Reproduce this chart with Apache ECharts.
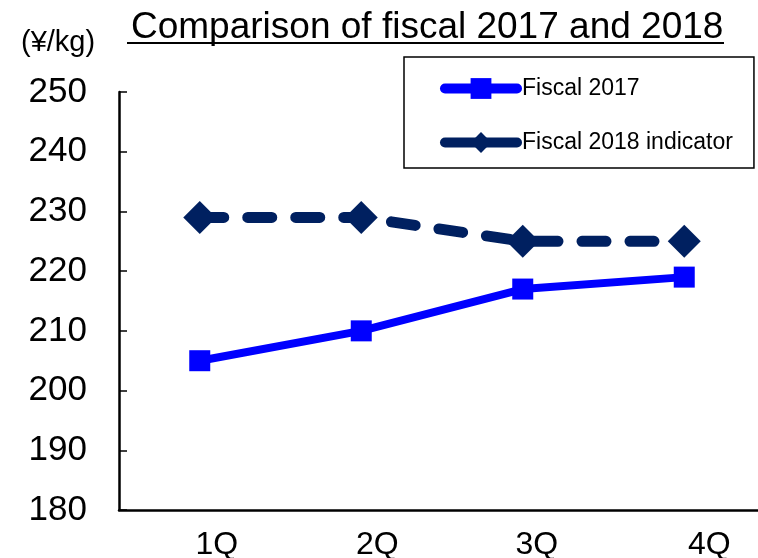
<!DOCTYPE html>
<html>
<head>
<meta charset="utf-8">
<script src="https://cdn.jsdelivr.net/npm/echarts@6/dist/echarts.min.js"></script>
<style>html,body{margin:0;padding:0;background:#fff;}#c{width:758px;height:558px;}</style>
</head>
<body>
<div id="c"></div>
<script>
var categories = ['1Q', '2Q', '3Q', '4Q'];
var fiscal2017 = [205, 210, 217, 219];
var fiscal2018 = [229, 229, 225, 225];
var seriesNames = ['Fiscal 2017', 'Fiscal 2018 indicator'];
var titleText = 'Comparison of fiscal 2017 and 2018';
var unitText = '(¥/kg)';

var FONT = 'Liberation Sans, Arial, sans-serif';
var labelShift = [17, 16, 14, 25];
var chart = echarts.init(document.getElementById('c'));
chart.setOption({
  animation: false,
  backgroundColor: '#fff',
  title: {
    text: titleText,
    left: 126, top: 4,
    textStyle: { fontFamily: FONT, fontSize: 37, fontWeight: 'normal', color: '#000' }
  },
  graphic: [
    { type: 'line', shape: { x1: 127, y1: 43, x2: 724, y2: 43 }, style: { stroke: '#000', lineWidth: 2 } },
    { type: 'text', left: 21, top: 28, style: { text: unitText, font: '29px ' + FONT, fill: '#000' } }
  ],
  legend: {
    orient: 'vertical',
    left: 404, top: 57,
    padding: [20, 21, 14, 36],
    itemGap: 31,
    itemWidth: 72, itemHeight: 26,
    borderColor: '#000', borderWidth: 1.5,
    textStyle: { fontFamily: FONT, fontSize: 23, color: '#000' },
    data: [
      { name: seriesNames[0], lineStyle: { type: 'solid', width: 10, cap: 'round' } },
      { name: seriesNames[1], lineStyle: { type: 'solid', width: 10, cap: 'round' } }
    ]
  },
  grid: { left: 119, width: 646, top: 92, bottom: 48, containLabel: false, outerBoundsMode: 'none' },
  xAxis: {
    type: 'category',
    data: categories.map(function (c, i) {
      return { value: c, textStyle: { padding: [0, 0, 0, 2 * labelShift[i]] } };
    }),
    boundaryGap: true,
    axisLine: { lineStyle: { color: '#000', width: 2.5 } },
    axisTick: { show: false },
    axisLabel: { fontFamily: FONT, fontSize: 32, color: '#000', margin: 19, hideOverlap: false }
  },
  yAxis: {
    type: 'value',
    min: 180, max: 250, interval: 10,
    axisLine: { show: true, lineStyle: { color: '#000', width: 2.5 } },
    axisTick: { show: true, inside: true, length: 8, lineStyle: { color: '#000', width: 1.5 } },
    splitLine: { show: false },
    axisLabel: { fontFamily: FONT, fontSize: 35, color: '#000', margin: 32 }
  },
  series: [
    {
      name: seriesNames[0], type: 'line', data: fiscal2017,
      symbol: 'rect', symbolSize: 21,
      lineStyle: { color: '#0000FF', width: 8 },
      itemStyle: { color: '#0000FF' }
    },
    {
      name: seriesNames[1], type: 'line', data: fiscal2018,
      symbol: 'diamond', symbolSize: [33, 33],
      lineStyle: { color: '#002060', width: 11, type: [24, 24], cap: 'round' },
      itemStyle: { color: '#002060' }
    }
  ]
});
</script>
</body>
</html>
